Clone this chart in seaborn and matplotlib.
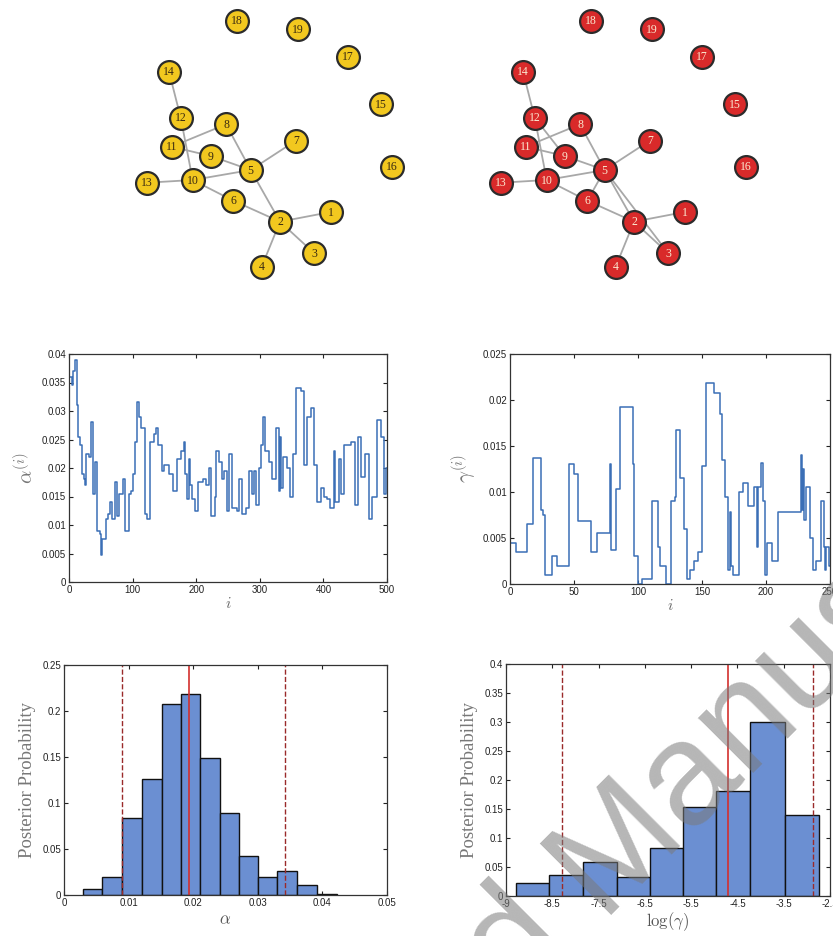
import numpy as np
import matplotlib
matplotlib.use('Agg')
import matplotlib.pyplot as plt
import seaborn as sns

################################################################################
# network (layout coordinates, left panel pixel space)
node_ids = list(range(1, 20))
node_x = [330.7, 280.0, 314.3, 261.7, 250.7, 233.3, 295.7, 226.0, 210.7, 192.7,
          171.7, 180.7, 147.3, 169.0, 381.0, 391.7, 347.7, 236.7, 298.3]
node_y = [212.0, 221.7, 253.3, 266.7, 170.0, 200.7, 140.7, 124.3, 156.0, 180.0,
          146.7, 117.7, 182.7, 71.7, 104.0, 166.7, 56.7, 20.7, 29.3]
edges_alpha = [(14, 12), (12, 10), (11, 8), (11, 9), (9, 5), (8, 5), (7, 5), (10, 5),
               (13, 10), (10, 6), (6, 2), (5, 2), (2, 1), (2, 3), (2, 4)]
edges_gamma = edges_alpha + [(12, 9), (6, 5), (5, 3)]

# MCMC traces (change points)
alpha_iter = [0, 4, 7, 10, 13, 14, 17, 20, 23, 25, 27, 32, 34, 37, 41, 44, 48, 50, 52, 58,
              62, 65, 67, 73, 75, 78, 85, 88, 94, 98, 101, 104, 107, 110, 113, 119, 122, 128,
              133, 137, 140, 147, 150, 158, 163, 170, 176, 181, 183, 186, 189, 191, 194, 198,
              203, 210, 216, 220, 223, 229, 231, 236, 240, 244, 248, 252, 256, 264, 268, 272,
              279, 283, 287, 291, 294, 298, 302, 305, 308, 315, 319, 325, 330, 332, 334, 337,
              342, 347, 352, 357, 365, 369, 374, 380, 385, 390, 396, 401, 406, 411, 416, 419,
              424, 428, 433, 444, 449, 455, 459, 466, 471, 476, 484, 491, 495, 499, 500]
alpha_val = [0.036, 0.0345, 0.037, 0.039, 0.031, 0.0255, 0.024, 0.019, 0.018, 0.017, 0.0225,
             0.022, 0.028, 0.0155, 0.021, 0.009, 0.0085, 0.0047, 0.0075, 0.011, 0.012, 0.014,
             0.011, 0.0175, 0.0115, 0.0155, 0.018, 0.009, 0.0155, 0.016, 0.019, 0.0245, 0.0315,
             0.029, 0.027, 0.012, 0.011, 0.0245, 0.026, 0.027, 0.024, 0.0195, 0.0205, 0.019,
             0.016, 0.0215, 0.023, 0.0245, 0.019, 0.0145, 0.0215, 0.017, 0.0145, 0.0125, 0.0175,
             0.018, 0.017, 0.020, 0.0115, 0.015, 0.023, 0.021, 0.018, 0.0195, 0.0125, 0.0225,
             0.013, 0.0125, 0.018, 0.012, 0.013, 0.0195, 0.0155, 0.0195, 0.0135, 0.020, 0.024,
             0.029, 0.023, 0.021, 0.018, 0.027, 0.016, 0.0255, 0.0165, 0.022, 0.020, 0.015,
             0.0225, 0.034, 0.0335, 0.0205, 0.029, 0.0305, 0.0205, 0.014, 0.0165, 0.015, 0.0145,
             0.013, 0.023, 0.014, 0.0215, 0.0155, 0.024, 0.0245, 0.0135, 0.0255, 0.0185, 0.0225,
             0.011, 0.015, 0.0285, 0.0255, 0.0155, 0.020, 0.020]

gamma_iter = [0, 5, 13, 18, 24, 26, 27, 33, 37, 46, 50, 53, 63, 68, 78, 79, 83, 86, 96, 97,
              100, 103, 111, 116, 117, 122, 126, 129, 130, 133, 136, 138, 141, 144, 147, 150,
              153, 159, 164, 166, 168, 170, 172, 173, 174, 179, 182, 186, 191, 193, 194, 196,
              198, 199, 201, 205, 209, 227, 228, 229, 230, 231, 234, 237, 239, 243, 245, 246,
              247, 249, 250]
gamma_val = [0.0045, 0.0035, 0.0065, 0.0137, 0.008, 0.0075, 0.001, 0.003, 0.002, 0.013, 0.012,
             0.0068, 0.0035, 0.0055, 0.013, 0.0037, 0.0103, 0.0192, 0.013, 0.003, 0.0, 0.0005,
             0.009, 0.004, 0.002, 0.0, 0.009, 0.0095, 0.0167, 0.0115, 0.006, 0.0005, 0.0015,
             0.0025, 0.0035, 0.0128, 0.0219, 0.0208, 0.0185, 0.0135, 0.0095, 0.0015, 0.0078,
             0.002, 0.001, 0.010, 0.011, 0.0085, 0.0105, 0.004, 0.0105, 0.0132, 0.009, 0.001,
             0.0045, 0.0025, 0.0078, 0.014, 0.008, 0.0125, 0.007, 0.0105, 0.005, 0.0015, 0.0025,
             0.009, 0.004, 0.0015, 0.004, 0.002, 0.002]

# posterior histograms
alpha_edges = [0.0029, 0.0059, 0.0090, 0.0121, 0.0151, 0.0181, 0.0211, 0.0241, 0.0271,
               0.0300, 0.0330, 0.0360, 0.0391, 0.0422]
alpha_prob = [0.0065, 0.020, 0.084, 0.126, 0.208, 0.218, 0.149, 0.089, 0.042, 0.020,
              0.026, 0.0112, 0.0015]
alpha_lines = [0.0090, 0.0193, 0.0342]

loggamma_edges = [-8.78, -8.07, -7.33, -6.61, -5.89, -5.17, -4.46, -3.72, -2.98, -2.24]
loggamma_prob = [0.022, 0.037, 0.058, 0.032, 0.083, 0.153, 0.181, 0.300, 0.140]
loggamma_lines = [-7.80, -4.20, -2.37]
loggamma_ticks = [-9, -8, -7, -6, -5, -4, -3, -2]
loggamma_ticklabels = ['-9', '-8.5', '-7.5', '-6.5', '-5.5', '-4.5', '-3.5', '-2.5']

################################################################################
sns.set_style('ticks')
plt.rcParams['font.family'] = ['Liberation Sans', 'DejaVu Sans']
plt.rcParams['mathtext.fontset'] = 'cm'

W, H = 833, 936
fig = plt.figure(figsize=(W / 100, H / 100), dpi=100)


def px_axes(left, top, right, bottom):
    return fig.add_axes([left / W, 1 - bottom / H, (right - left) / W, (bottom - top) / H])


def draw_network(ax, edges, face, txtcolor):
    pos = dict(zip(node_ids, zip(node_x, node_y)))
    for a, b in edges:
        ax.plot([pos[a][0], pos[b][0]], [pos[a][1], pos[b][1]], color='#a8a8a8', lw=1.3, zorder=1)
    sns.scatterplot(x=node_x, y=node_y, ax=ax, s=270, color=face, edgecolor='#2b2b2b',
                    linewidth=1.6, zorder=2, legend=False)
    for n, x, y in zip(node_ids, node_x, node_y):
        ax.text(x, y + 0.5, str(n), ha='center', va='center', fontsize=8.5,
                family='Liberation Serif', color=txtcolor, zorder=3)
    ax.set_xlim(120, 420)
    ax.set_ylim(290, 0)
    ax.axis('off')


ax_n1 = px_axes(120, 0, 420, 290)
draw_network(ax_n1, edges_alpha, '#f2c81f', '#3a2a10')
ax_n2 = px_axes(474, 0, 774, 290)
draw_network(ax_n2, edges_gamma, '#d92a2a', '#fbe9d0')


def style_axes(ax):
    ax.tick_params(direction='in', top=True, right=True, length=3, width=0.8,
                   labelsize=7, colors='#222222', pad=2)
    for s in ax.spines.values():
        s.set_color('#333333')
        s.set_linewidth(0.9)
    ax.grid(False)


line_c = '#3b6fb6'
ax_t1 = px_axes(69, 354, 387, 582)
sns.lineplot(x=alpha_iter, y=alpha_val, ax=ax_t1, color=line_c, lw=1.1,
             drawstyle='steps-post', estimator=None)
ax_t1.set_xlim(0, 500)
ax_t1.set_ylim(0, 0.04)
ax_t1.set_xticks([0, 100, 200, 300, 400, 500])
ax_t1.set_yticks([0, 0.005, 0.01, 0.015, 0.02, 0.025, 0.03, 0.035, 0.04])
ax_t1.set_yticklabels(['0', '0.005', '0.01', '0.015', '0.02', '0.025', '0.03', '0.035', '0.04'])
ax_t1.set_xlabel(r'$i$', fontsize=11, color='#666666', labelpad=1)
ax_t1.set_ylabel(r'$\alpha^{(i)}$', fontsize=15, color='#777777', labelpad=3)
style_axes(ax_t1)

ax_t2 = px_axes(510, 354, 830, 584)
sns.lineplot(x=gamma_iter, y=gamma_val, ax=ax_t2, color=line_c, lw=1.1,
             drawstyle='steps-post', estimator=None)
ax_t2.set_xlim(0, 250)
ax_t2.set_ylim(0, 0.025)
ax_t2.set_xticks([0, 50, 100, 150, 200, 250])
ax_t2.set_yticks([0, 0.005, 0.01, 0.015, 0.02, 0.025])
ax_t2.set_yticklabels(['0', '0.005', '0.01', '0.015', '0.02', '0.025'])
ax_t2.set_xlabel(r'$i$', fontsize=11, color='#666666', labelpad=1)
ax_t2.set_ylabel(r'$\gamma^{(i)}$', fontsize=15, color='#777777', labelpad=3)
style_axes(ax_t2)

bar_c = '#6b8fd2'
red = '#d3302e'
ax_h1 = px_axes(64, 665, 387, 895)
centers = [(a + b) / 2 for a, b in zip(alpha_edges[:-1], alpha_edges[1:])]
sns.histplot(x=centers, weights=alpha_prob, bins=alpha_edges, ax=ax_h1, color=bar_c,
             alpha=1, edgecolor='#111111', linewidth=1.0)
ax_h1.axvline(alpha_lines[0], color='#9a2a2a', ls='--', lw=1.0)
ax_h1.axvline(alpha_lines[1], color=red, ls='-', lw=1.2)
ax_h1.axvline(alpha_lines[2], color='#9a2a2a', ls='--', lw=1.0)
ax_h1.set_xlim(0, 0.05)
ax_h1.set_ylim(0, 0.25)
ax_h1.set_xticks([0, 0.01, 0.02, 0.03, 0.04, 0.05])
ax_h1.set_xticklabels(['0', '0.01', '0.02', '0.03', '0.04', '0.05'])
ax_h1.set_yticks([0, 0.05, 0.1, 0.15, 0.2, 0.25])
ax_h1.set_yticklabels(['0', '0.05', '0.1', '0.15', '0.2', '0.25'])
ax_h1.set_xlabel(r'$\alpha$', fontsize=12, color='#555555', labelpad=3)
ax_h1.set_ylabel('Posterior Probability', fontsize=13.5, color='#777777',
                 family='Liberation Serif', labelpad=5)
style_axes(ax_h1)

ax_h2 = px_axes(506, 664, 830, 896)
centers = [(a + b) / 2 for a, b in zip(loggamma_edges[:-1], loggamma_edges[1:])]
sns.histplot(x=centers, weights=loggamma_prob, bins=loggamma_edges, ax=ax_h2, color=bar_c,
             alpha=1, edgecolor='#111111', linewidth=1.0)
ax_h2.axvline(loggamma_lines[0], color='#9a2a2a', ls='--', lw=1.0)
ax_h2.axvline(loggamma_lines[1], color=red, ls='-', lw=1.2)
ax_h2.axvline(loggamma_lines[2], color='#9a2a2a', ls='--', lw=1.0)
ax_h2.set_xlim(-9, -2)
ax_h2.set_ylim(0, 0.4)
ax_h2.set_xticks(loggamma_ticks)
ax_h2.set_xticklabels(loggamma_ticklabels)
ax_h2.set_yticks([0, 0.05, 0.1, 0.15, 0.2, 0.25, 0.3, 0.35, 0.4])
ax_h2.set_yticklabels(['0', '0.05', '0.1', '0.15', '0.2', '0.25', '0.3', '0.35', '0.4'])
ax_h2.set_xlabel(r'$\log(\gamma)$', fontsize=12, color='#555555', labelpad=1)
ax_h2.set_ylabel('Posterior Probability', fontsize=13.5, color='#777777',
                 family='Liberation Serif', labelpad=5)
style_axes(ax_h2)

# watermark (semi-transparent, drawn over the panels)
wm = dict(rotation=45, rotation_mode='anchor', va='baseline', fontsize=105,
          color='#7a7a7a', alpha=0.55, zorder=10)
fig.text(600 / W, 1 - 915 / H, 'Manuscript', ha='left', **wm)
fig.text(600 / W, 1 - 915 / H, 'Accepted ', ha='right', **wm)

fig.savefig('out.png', dpi=100)
